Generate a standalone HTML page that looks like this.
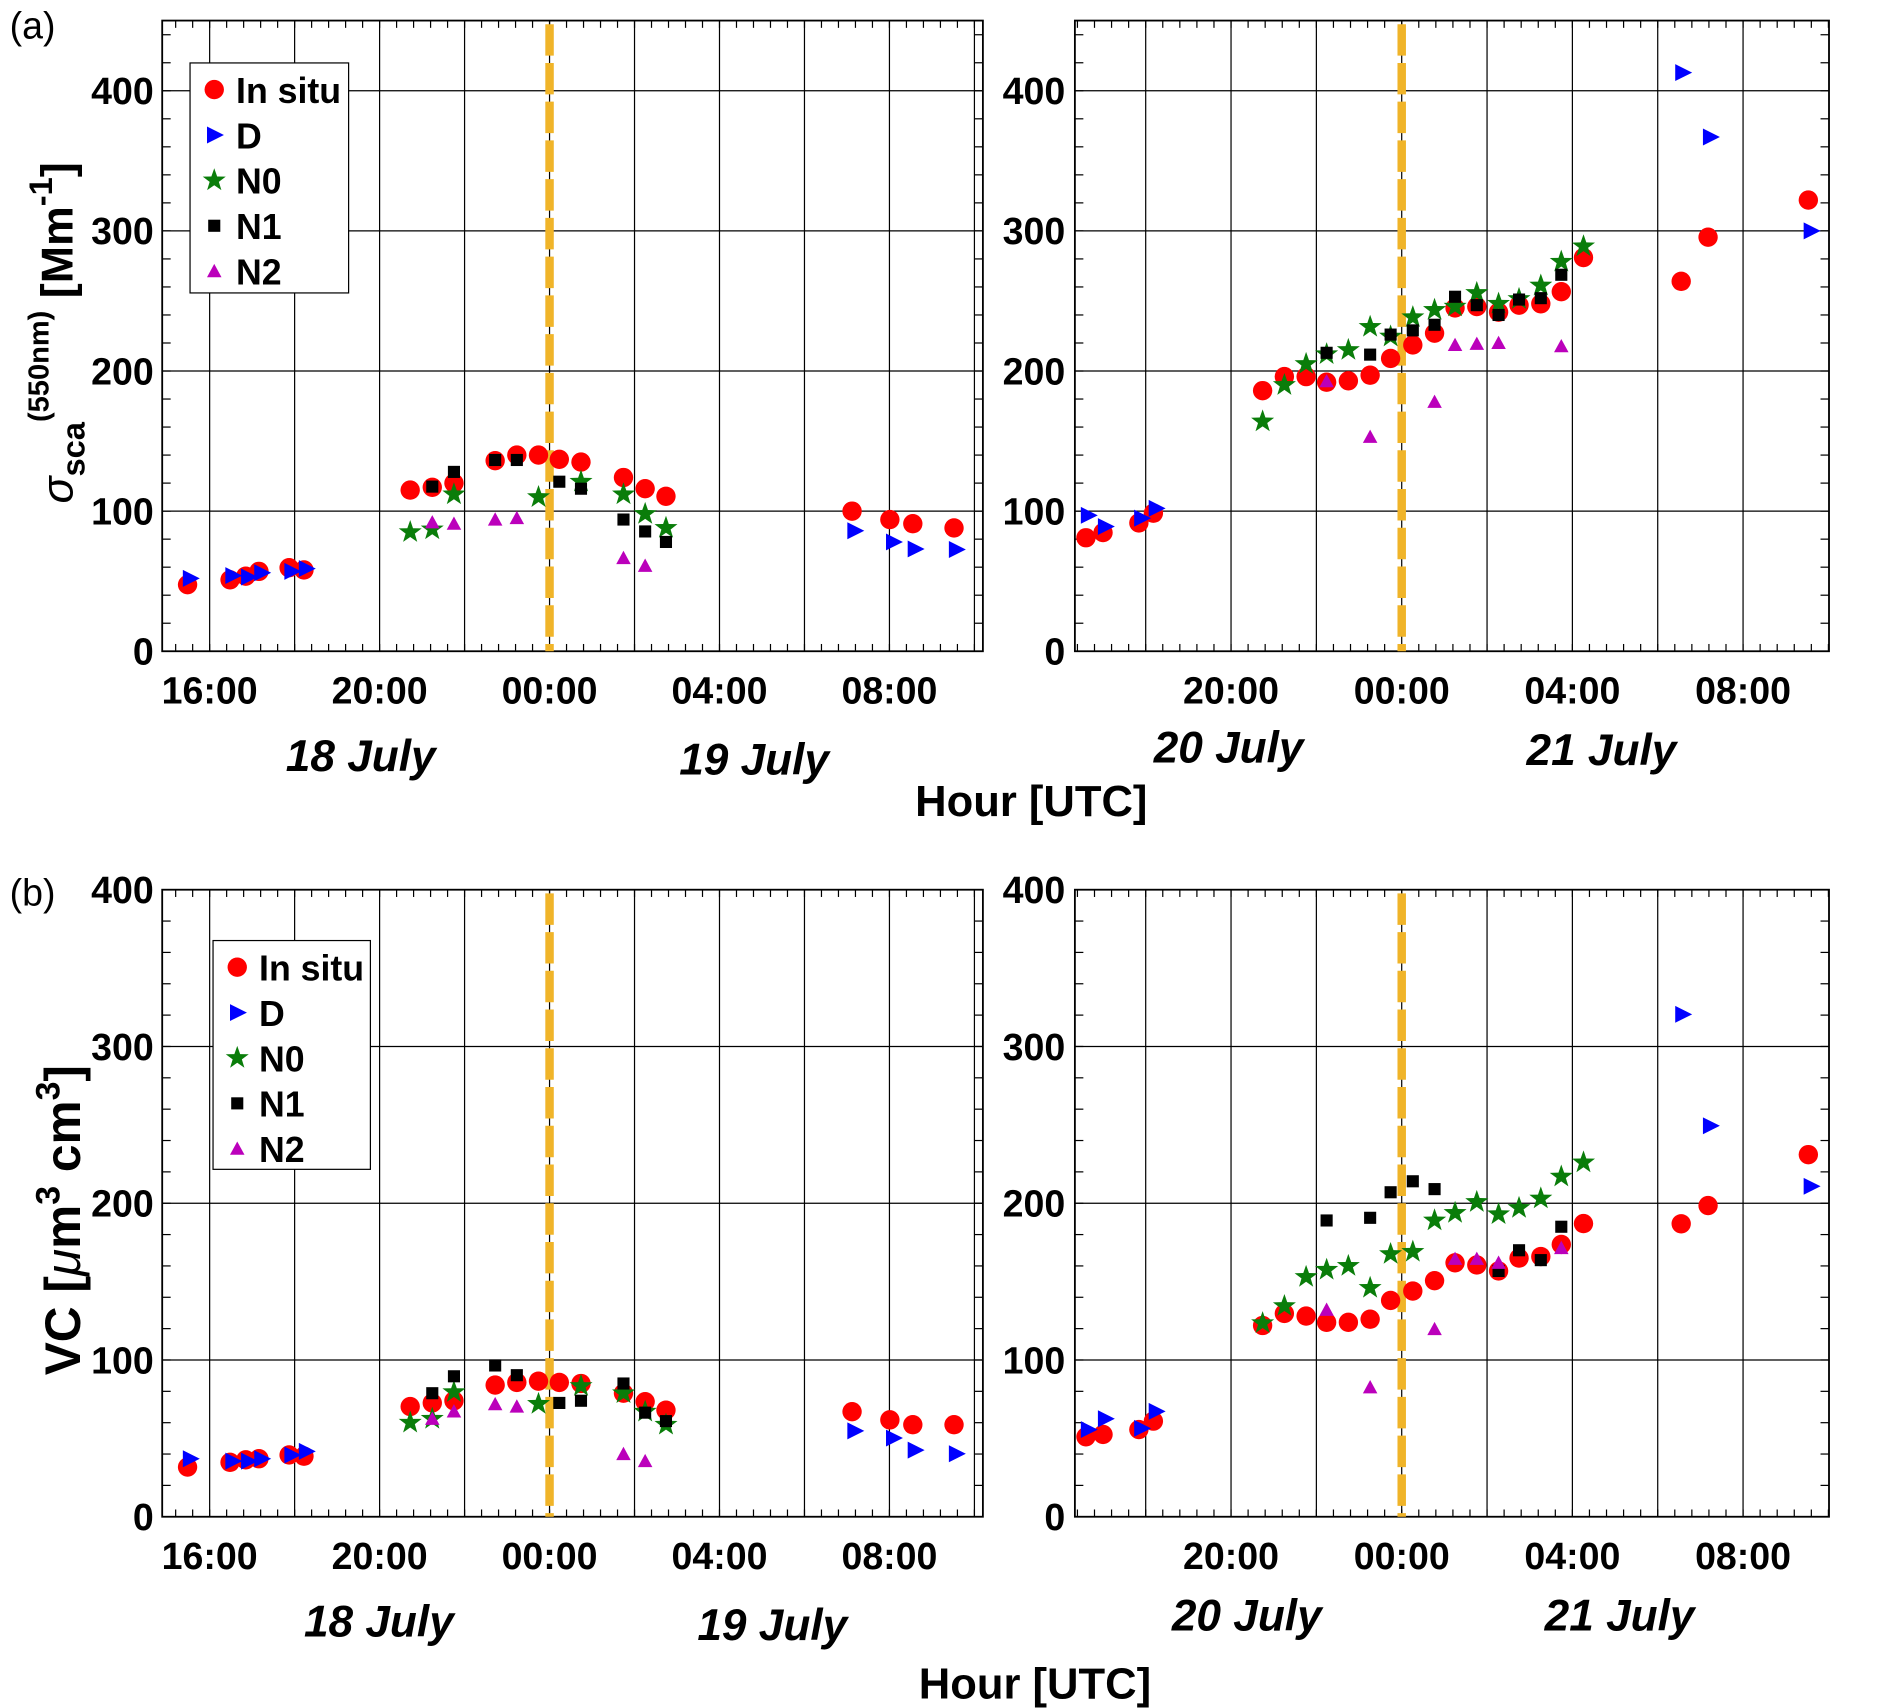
<!DOCTYPE html>
<html><head><meta charset="utf-8"><style>
html,body{margin:0;padding:0;background:#fff}
svg{display:block}
text{font-family:"Liberation Sans",Arial,sans-serif;}
.b{font-weight:bold}
</style></head><body>
<svg id="chart" width="1898" height="1708" viewBox="0 0 1568 1411" preserveAspectRatio="none" xmlns="http://www.w3.org/2000/svg">
<text x="8" y="32" font-size="31">(a)</text>
<text x="8" y="748" font-size="31">(b)</text>
<text class="b" font-size="37" transform="translate(60,275) rotate(-90)" text-anchor="middle"><tspan font-style="italic" font-weight="normal">σ</tspan><tspan font-size="27" dy="10">sca</tspan><tspan font-size="24" dy="-30">(550nm)</tspan><tspan dy="20"> [Mm</tspan><tspan font-size="27" dy="-17">-1</tspan><tspan dy="17">]</tspan></text>
<text class="b" font-size="41" transform="translate(66,1008) rotate(-90)" text-anchor="middle">VC [<tspan font-style="italic" font-weight="normal">μ</tspan>m<tspan font-size="28" dy="-17">3</tspan><tspan dy="17"> cm</tspan><tspan font-size="28" dy="-17">3</tspan><tspan dy="17">]</tspan></text>
<text class="b" x="852" y="674" font-size="36" text-anchor="middle">Hour [UTC]</text>
<text class="b" x="855" y="1403" font-size="36" text-anchor="middle">Hour [UTC]</text>
<g id="plots"></g>
</svg>
<script>
// Panel a left
const aL_insitu_h=[-8.52,-7.52,-7.15,-6.84,-6.13,-5.78,-3.28,-2.76,-2.25,-1.28,-0.77,-0.26,0.23,0.74,1.74,2.25,2.74,7.12,8.01,8.55,9.52];
const aL_insitu_v=[47.5,51,53.6,57,59.6,58,115,117,120,136,140,140,137,135,124,116,110.6,100,94,91,88];
const aL_D_h=[-8.46,-7.46,-7.09,-6.78,-6.07,-5.73,7.18,8.09,8.6,9.57];
const aL_D_v=[52,54,53,56,57,59,86,78,73,72.6];
const aL_N0_h=[-3.28,-2.76,-2.25,-0.26,0.74,1.74,2.25,2.74];
const aL_N0_v=[85,87,112,110,121,112,98,88];
const aL_N1_h=[-2.76,-2.25,-1.28,-0.77,0.23,0.74,1.74,2.25,2.74];
const aL_N1_v=[117.5,128,136.5,136.5,121,116,94,85.5,78];
const aL_N2_h=[-2.76,-2.25,-1.28,-0.77,1.74,2.25];
const aL_N2_v=[92,91,94,95,66.5,61];
// Panel a right
const aR_insitu_h=[-7.4,-7.0,-6.16,-5.82,-3.26,-2.75,-2.24,-1.76,-1.25,-0.74,-0.26,0.26,0.77,1.25,1.76,2.27,2.75,3.26,3.74,4.26,6.55,7.18,9.53];
const aR_insitu_v=[81,84.7,91.6,98.5,186,196,196,192,193,197,209,218.6,227,245,246,242,247,248,256.6,281,264,295.5,322];
const aR_D_h=[-7.35,-6.95,-6.1,-5.76,6.58,7.23,9.59];
const aR_D_v=[97,89,95,102,413,367,300];
const aR_N0_h=[-3.26,-2.75,-2.24,-1.76,-1.25,-0.74,-0.26,0.26,0.77,1.25,1.76,2.27,2.75,3.26,3.74,4.26];
const aR_N0_v=[164,190,205,212,215,231.5,224.6,238.4,243.6,246,255.7,248,251.4,261,278,289];
const aR_N1_h=[-1.76,-0.74,-0.26,0.26,0.77,1.25,1.76,2.27,2.75,3.26,3.74];
const aR_N1_v=[213,211.7,226,229,233,253,247,240,251,252,268.7];
const aR_N2_h=[-1.76,-0.74,0.77,1.25,1.76,2.27,3.74];
const aR_N2_v=[192.7,153,178,218.6,219.4,220,217.7];
// Panel b left
const bL_insitu_h=aL_insitu_h;
const bL_insitu_v=[31.7,34.7,36.3,37,39.4,38.6,70.3,72.6,74,84,85.7,86.5,85.7,85,78.8,73.4,68,67,61.8,58.7,58.7];
const bL_D_h=aL_D_h;
const bL_D_v=[37,35.5,35.5,37,39.4,41.7,54.8,50.2,42.5,40.2];
const bL_N0_h=aL_N0_h;
const bL_N0_v=[60,62.5,79.5,72,83.4,78.8,67,58.7];
const bL_N1_h=[-2.76,-2.25,-1.28,-0.77,0.23,0.74,1.74,2.25,2.74];
const bL_N1_v=[78.8,89.6,96.5,90.3,72.6,74,85,66.4,61];
const bL_N2_h=aL_N2_h;
const bL_N2_v=[62.5,67.2,71.8,70.3,40,35.5];
// Panel b right
const bR_insitu_h=aR_insitu_h;
const bR_insitu_v=[51,52.5,55.6,61,122,129.7,128,124,124,126,138,144,150.6,162,160.6,156.8,165,166,173.7,187,186.9,198.5,231];
const bR_D_h=aR_D_h;
const bR_D_v=[55.6,62.5,56.4,67.2,320.5,249.4,210.8];
const bR_N0_h=aR_N0_h;
const bR_N0_v=[123.5,134.4,153,157.5,160,146,167.6,169,189,193.8,200.8,193,197,203,217,226];
const bR_N1_h=[-1.76,-0.74,-0.26,0.26,0.77,2.27,2.75,3.26,3.74];
const bR_N1_v=[189,190.7,207,214,209,156.8,170,163.7,185];
const bR_N2_h=[-1.76,-0.74,0.77,1.25,1.76,2.27,3.74];
const bR_N2_v=[132,82.6,119.7,164.5,164.5,162,171.4];
const xTickLabelsL=["16:00","20:00","00:00","04:00","08:00"];
const xTickHoursL=[-8,-4,0,4,8];
const xTickLabelsR=["20:00","00:00","04:00","08:00"];
const xTickHoursR=[-4,0,4,8];
const yTicks=[0,100,200,300,400];

const NS="http://www.w3.org/2000/svg";
const root=document.getElementById('plots');
function mk(tag,attrs,parent){const e=document.createElementNS(NS,tag);for(const k in attrs)e.setAttribute(k,attrs[k]);(parent||root).appendChild(e);return e;}

const panels=[
 {id:'a-left',x0:134,x1:812,y0:17,y1:538,xz:454,hp:35.1,top400:75,lab:xTickLabelsL,th:xTickHoursL,ylabX:127,xlabY:581,
  s:[aL_insitu_h,aL_insitu_v,aL_D_h,aL_D_v,aL_N0_h,aL_N0_v,aL_N1_h,aL_N1_v,aL_N2_h,aL_N2_v]},
 {id:'a-right',x0:888,x1:1511,y0:17,y1:538,xz:1158,hp:35.25,top400:75,lab:xTickLabelsR,th:xTickHoursR,ylabX:880,xlabY:581,
  s:[aR_insitu_h,aR_insitu_v,aR_D_h,aR_D_v,aR_N0_h,aR_N0_v,aR_N1_h,aR_N1_v,aR_N2_h,aR_N2_v]},
 {id:'b-left',x0:134,x1:812,y0:735,y1:1253,xz:454,hp:35.1,top400:735,lab:xTickLabelsL,th:xTickHoursL,ylabX:127,xlabY:1296,
  s:[bL_insitu_h,bL_insitu_v,bL_D_h,bL_D_v,bL_N0_h,bL_N0_v,bL_N1_h,bL_N1_v,bL_N2_h,bL_N2_v]},
 {id:'b-right',x0:888,x1:1511,y0:735,y1:1253,xz:1158,hp:35.25,top400:735,lab:xTickLabelsR,th:xTickHoursR,ylabX:880,xlabY:1296,
  s:[bR_insitu_h,bR_insitu_v,bR_D_h,bR_D_v,bR_N0_h,bR_N0_v,bR_N1_h,bR_N1_v,bR_N2_h,bR_N2_v]}
];
const names=['in-situ','d','n0','n1','n2'];
function marker(kind,x,y,g){
  let e;
  if(kind==0) e=mk('circle',{cx:x,cy:y,r:8,fill:'#f00'},g);
  else if(kind==1) e=mk('polygon',{points:`${x-6},${y-7} ${x+8},${y} ${x-6},${y+7}`,fill:'#00f'},g);
  else if(kind==2){let p=[];for(let i=0;i<10;i++){const r=i%2?4:10,a=-Math.PI/2+i*Math.PI/5;p.push((x+r*Math.cos(a)).toFixed(1)+','+(y+r*Math.sin(a)).toFixed(1));}
    e=mk('polygon',{points:p.join(' '),fill:'#0a7d0a'},g);}
  else if(kind==3) e=mk('rect',{x:x-5,y:y-5,width:10,height:10,fill:'#000'},g);
  else e=mk('polygon',{points:`${x},${y-6} ${x+6},${y+5} ${x-6},${y+5}`,fill:'#b0b'},g);
  return e;
}
panels.forEach(p=>{
  const g=mk('g',{});
  
  
  const X=h=>p.xz+h*p.hp;
  const Y=v=>p.y1-(p.y1-p.top400)*v/400;
  const hmin=(p.x0-p.xz)/p.hp,hmax=(p.x1-p.xz)/p.hp;
  for(let h=Math.ceil(hmin/2)*2;h<=hmax;h+=2){if(X(h)-p.x0<3||p.x1-X(h)<3)continue;
    const l=mk('line',{x1:X(h),x2:X(h),y1:p.y0,y2:p.y1,stroke:'#000','stroke-width':1},g);
    }
  for(let v=100;v<=400;v+=100){if(Y(v)<=p.y0+2)continue;
    const l=mk('line',{x1:p.x0,x2:p.x1,y1:Y(v),y2:Y(v),stroke:'#000','stroke-width':1},g);
    }
  for(let h=Math.ceil(hmin/0.4)*0.4;h<=hmax;h+=0.4){
    mk('line',{x1:X(h),x2:X(h),y1:p.y1,y2:p.y1-6,stroke:'#000'},g);
    mk('line',{x1:X(h),x2:X(h),y1:p.y0,y2:p.y0+6,stroke:'#000'},g);}
  for(let v=20;Y(v)>p.y0;v+=20){
    mk('line',{x1:p.x0,x2:p.x0+7,y1:Y(v),y2:Y(v),stroke:'#000'},g);
    mk('line',{x1:p.x1,x2:p.x1-7,y1:Y(v),y2:Y(v),stroke:'#000'},g);}
  const fr=mk('rect',{x:p.x0,y:p.y0,width:p.x1-p.x0,height:p.y1-p.y0,fill:'none',stroke:'#000','stroke-width':1.5},g);
  
  yTicks.forEach(v=>{const t=mk('text',{x:p.ylabX,y:Y(v)+11,'font-size':31,'text-anchor':'end','class':'b'},g);t.textContent=v;
    });
  p.lab.forEach((s,i)=>{const t=mk('text',{x:X(p.th[i]),y:p.xlabY,'font-size':31,'text-anchor':'middle','class':'b'},g);t.textContent=s;
    });
  const d=mk('line',{x1:X(0),x2:X(0),y1:p.y0+3,y2:p.y1,stroke:'#f0b429','stroke-width':7,'stroke-dasharray':'26,6'},g);
  
  for(let k=0;k<5;k++){const hs=p.s[2*k],vs=p.s[2*k+1];
    const sg=mk('g',{},g);
    
    for(let i=0;i<vs.length;i++){const m=marker(k,X(hs[i]),Y(vs[i]),sg);
      }}
});
function legend(x,y,w,h,id){
  const g=mk('g',{});
  
  mk('rect',{x:x,y:y,width:w,height:h,fill:'#fff',stroke:'#000','stroke-width':1},g);
  const labs=['In situ','D','N0','N1','N2'];
  labs.forEach((s,i)=>{const cy=y+23+i*37.5;
    const e=mk('g',{},g);
    
    marker(i,x+20,cy-1,e);
    const t=mk('text',{x:x+38,y:cy+10,'font-size':29.5,'class':'b'},e);t.textContent=s;});
}
legend(157,52,131,190,'a');
legend(176,777,130,189,'b');
const days=[['18 July',298,637],['19 July',623,640],['20 July',1015,630],['21 July',1323,632],
 ['18 July',313,1352],['19 July',638,1355],['20 July',1030,1347],['21 July',1338,1347]];
days.forEach(d=>{const t=mk('text',{x:d[1],y:d[2],'font-size':36.5,'text-anchor':'middle','class':'b','font-style':'italic'});t.textContent=d[0];
  });
</script>
</body></html>
